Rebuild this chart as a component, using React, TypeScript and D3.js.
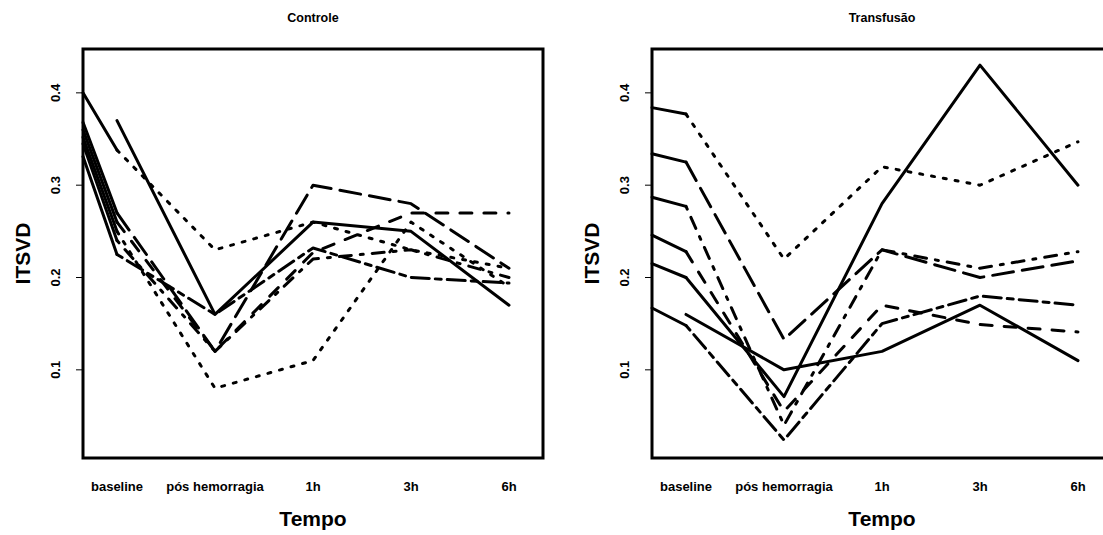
import React from "react";
import * as d3 from "d3";

// Time points on the x axis
const timeLabels = ["baseline", "pós hemorragia", "1h", "3h", "6h"];
const yTicks = [0.1, 0.2, 0.3, 0.4];

// R-style line types
const LTY: Record<string, number[] | null> = {
  solid: null,
  dashed: [4, 4],
  dotted: [1, 3],
  dotdash: [1, 3, 4, 3],
  longdash: [7, 3],
  twodash: [2, 2, 6, 2],
};

// Controle group: one trace per animal
const ctrlValues: number[][] = [
  [0.37, 0.16, 0.26, 0.25, 0.17],
  [0.338, 0.23, 0.26, 0.23, 0.21],
  [0.27, 0.12, 0.3, 0.28, 0.21],
  [0.26, 0.12, 0.227, 0.27, 0.27],
  [0.25, 0.08, 0.11, 0.26, 0.19],
  [0.24, 0.12, 0.22, 0.23, 0.2],
  [0.225, 0.16, 0.232, 0.2, 0.194],
];
const ctrlStart: (number | null)[] = [null, 0.4, 0.368, 0.36, 0.352, 0.345, 0.331];
const ctrlLty = ["solid", "dotted", "longdash", "dashed", "dotted", "dotdash", "twodash"];

// Transfusão group
const trValues: number[][] = [
  [0.16, 0.1, 0.12, 0.17, 0.11],
  [0.377, 0.22, 0.32, 0.3, 0.347],
  [0.325, 0.133, 0.23, 0.2, 0.218],
  [0.277, 0.04, 0.23, 0.21, 0.228],
  [0.228, 0.055, 0.17, 0.149, 0.141],
  [0.2, 0.071, 0.28, 0.43, 0.3],
  [0.148, 0.024, 0.15, 0.18, 0.17],
];
const trStart: (number | null)[] = [null, 0.384, 0.334, 0.287, 0.246, 0.215, 0.167];
const trLty = ["solid", "dotted", "longdash", "dotdash", "dashed", "solid", "twodash"];

const W = 1103;
const H = 535;
const FONT = "'Liberation Sans', Arial, Helvetica, sans-serif";
const LWD = 3;

const yScale = d3.scaleLinear().domain([0.0045, 0.4475]).range([458, 49]);

interface PanelProps {
  left: number;
  title: string;
  values: number[][];
  start: (number | null)[];
  lty: string[];
}

function Panel({ left, title, values, start, lty }: PanelProps) {
  const boxW = 460;
  const x = d3.scaleLinear().domain([0.653, 5.347]).range([left, left + boxW]);
  const y = yScale;
  const line = d3
    .line<number>()
    .x((_, i) => x(i + 1))
    .y((d) => y(d));
  const [y0, y1] = y.range();
  const cx = left + boxW / 2;
  return (
    <g>
      <text x={cx} y={22} textAnchor="middle" fontFamily={FONT} fontWeight="bold" fontSize={12.5}>
        {title}
      </text>
      {/* traces */}
      {values.map((vals, i) => {
        const pat = LTY[lty[i]];
        return (
          <g key={i}>
            {start[i] !== null && (
              <line
                x1={x(0.653)}
                y1={y(start[i] as number)}
                x2={x(1)}
                y2={y(vals[0])}
                stroke="#000"
                strokeWidth={LWD}
                strokeLinecap="round"
              />
            )}
            <path
              d={line(vals) || ""}
              fill="none"
              stroke="#000"
              strokeWidth={LWD}
              strokeLinecap="round"
              strokeLinejoin="round"
              strokeDasharray={pat ? pat.map((p) => p * LWD).join(" ") : undefined}
            />
          </g>
        );
      })}
      {/* box */}
      <rect x={left} y={y1} width={boxW} height={y0 - y1} fill="none" stroke="#000" strokeWidth={3} />
      {/* y axis */}
      {yTicks.map((t) => (
        <g key={t}>
          <line x1={left - 7} x2={left} y1={y(t)} y2={y(t)} stroke="#000" strokeWidth={1} />
          <text
            transform={`translate(${left - 23},${y(t)}) rotate(-90)`}
            textAnchor="middle"
            fontFamily={FONT}
            fontWeight="bold"
            fontSize={13}
          >
            {t.toFixed(1)}
          </text>
        </g>
      ))}
      <text
        transform={`translate(${left - 53},${(y0 + y1) / 2}) rotate(-90)`}
        textAnchor="middle"
        fontFamily={FONT}
        fontWeight="bold"
        fontSize={21}
      >
        ITSVD
      </text>
      {/* x labels */}
      {timeLabels.map((l, i) => (
        <text key={l} x={x(i + 1)} y={491} textAnchor="middle" fontFamily={FONT} fontWeight="bold" fontSize={13}>
          {l}
        </text>
      ))}
      <text x={cx} y={526} textAnchor="middle" fontFamily={FONT} fontWeight="bold" fontSize={21}>
        Tempo
      </text>
    </g>
  );
}

export default function App() {
  return (
    <svg
      width={W}
      height={H}
      viewBox={`0 0 ${W} ${H}`}
      style={{ position: "absolute", left: 0, top: 0, background: "#fff" }}
    >
      <rect width={W} height={H} fill="#fff" />
      <Panel left={83} title="Controle" values={ctrlValues} start={ctrlStart} lty={ctrlLty} />
      <Panel left={652} title="Transfusão" values={trValues} start={trStart} lty={trLty} />
    </svg>
  );
}
